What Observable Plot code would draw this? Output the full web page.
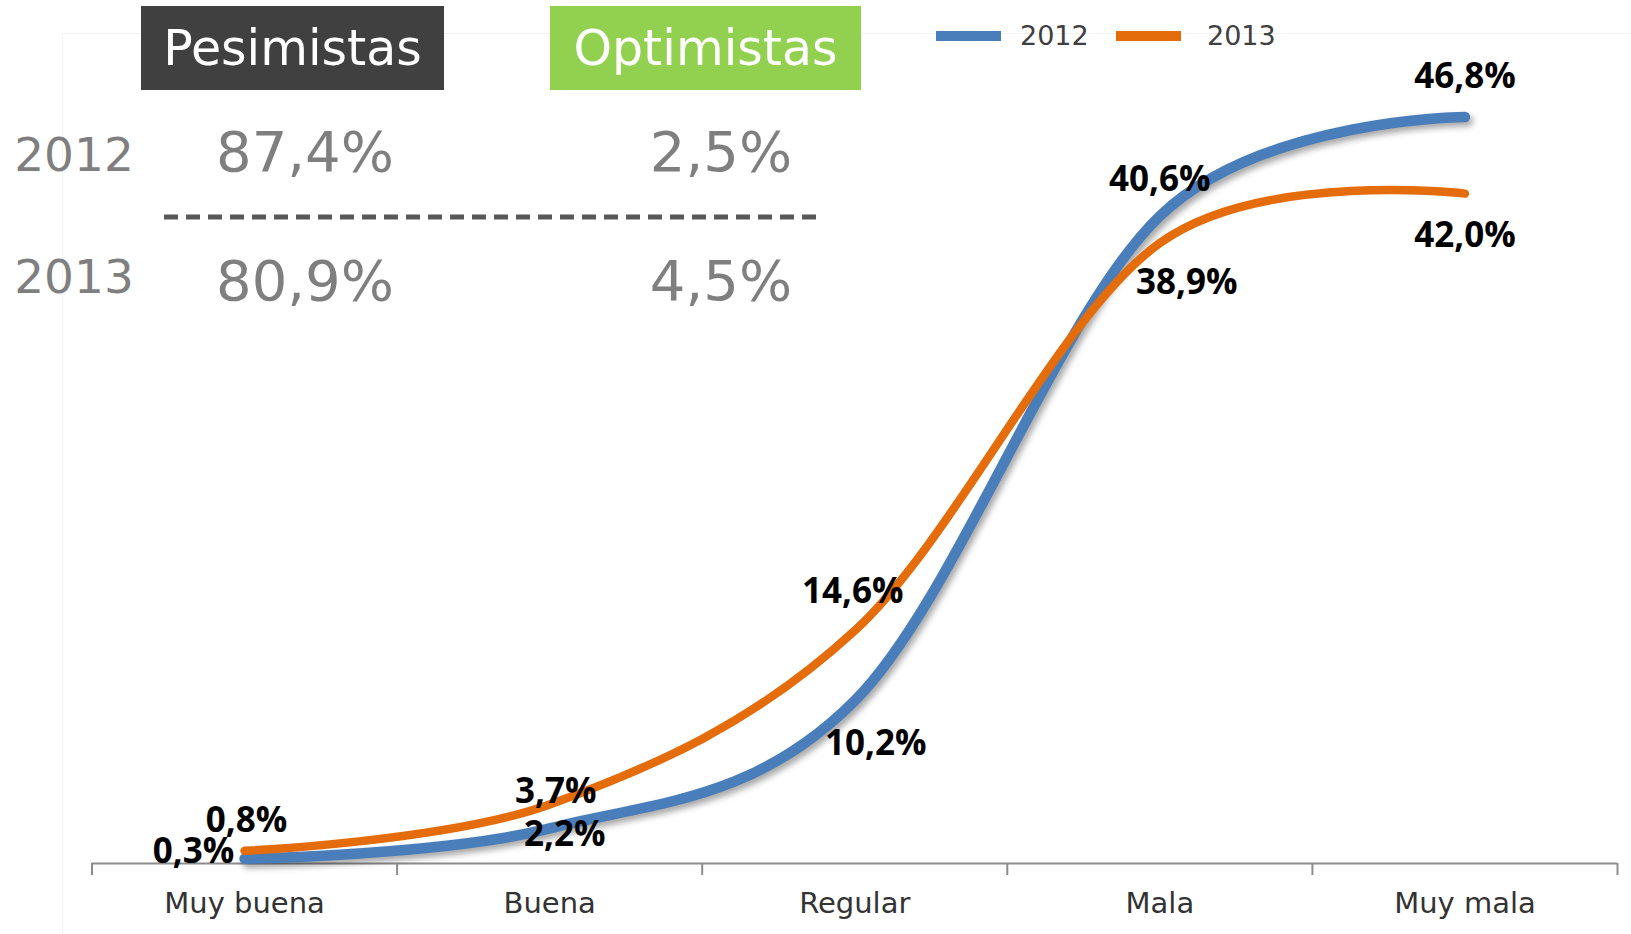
<!DOCTYPE html>
<html>
<head>
<meta charset="utf-8">
<script src="https://cdn.jsdelivr.net/npm/d3@7"></script>
<script src="https://cdn.jsdelivr.net/npm/@observablehq/plot@0.6"></script>
<style>
  html, body { margin: 0; padding: 0; background: #fff; }
  #wrap { position: relative; width: 1631px; height: 934px; overflow: hidden; font-family: "DejaVu Sans", sans-serif; }
  #chart { position: absolute; left: 0; top: 0; }
  .ov { position: absolute; white-space: nowrap; line-height: 1; }
  .c { transform: translate(-50%, -50%); }
  .box { position: absolute; display: flex; align-items: center; justify-content: center; color: #fff; font-size: 49px; }
  .frame { position: absolute; left: 62px; top: 33px; width: 1569px; height: 901px; border-left: 1px solid #f2f2f2; border-top: 1px solid #f2f2f2; }
</style>
</head>
<body>
<div id="wrap">
  <div class="frame"></div>
  <div id="chart"></div>
  <div id="overlay"></div>
</div>
<script>
// ---- data ----
const categories = ["Muy buena", "Buena", "Regular", "Mala", "Muy mala"];
const values2012 = [0.3, 2.2, 10.2, 40.6, 46.8];
const values2013 = [0.8, 3.7, 14.6, 38.9, 42.0];
const seriesNames = ["2012", "2013"];
const groupNames = ["Pesimistas", "Optimistas"];
const pesimistas = [87.4, 80.9];
const optimistas = [2.5, 4.5];

// ---- styling (not data) ----
const colors = {"2012": "#4a7ebb", "2013": "#e46c0a"};
const widths = {"2012": 10.5, "2013": 8.5};
const labelOffsets = {
  "2012": [[-51, -7], [15, 6], [21, 43], [0, -36], [0, -40]],
  "2013": [[2, -30], [6, -13], [-2, -39], [27, 40], [0, 42]]
};

const fmt = v => v.toFixed(1).replace(".", ",") + "%";
const seriesValues = {"2012": values2012, "2013": values2013};
const rows = seriesNames.flatMap(s => seriesValues[s].map((v, i) => ({series: s, i, cat: categories[i], value: v})));

const lineMarks = seriesNames.map(s =>
  Plot.line(rows.filter(d => d.series === s), {
    x: "i", y: "value", curve: "cardinal",
    stroke: colors[s], strokeWidth: widths[s], strokeLinecap: "round", strokeLinejoin: "round"
  })
);

const labelMarks = rows.map(d =>
  Plot.text([d], {
    x: "i", y: "value", text: d => fmt(d.value),
    dx: labelOffsets[d.series][d.i][0], dy: labelOffsets[d.series][d.i][1],
    fontSize: 35, fontWeight: "bold", fill: "#000", fontFamily: "Open Sans"
  })
);

const tickBounds = d3.range(categories.length + 1).map(k => k - 0.5);

const plot = Plot.plot({
  width: 1631,
  height: 934,
  marginLeft: 91.5,
  marginRight: 14,
  marginTop: 65.5,
  marginBottom: 71,
  style: {background: "transparent", overflow: "visible"},
  x: {domain: [-0.5, categories.length - 0.5], axis: null},
  y: {domain: [0, 50], axis: null},
  marks: [
    Plot.axisX({ticks: tickBounds, tickSize: 12, stroke: "#8c8c8c", strokeWidth: 2, tickFormat: () => "", label: null}),
    Plot.ruleY([0], {stroke: "#8c8c8c", strokeWidth: 2}),
    Plot.axisX({ticks: d3.range(categories.length), tickSize: 0, tickPadding: 29, label: null,
      tickFormat: i => categories[i], fontSize: 29, fill: "#333", fontFamily: "DejaVu Sans"}),
    ...lineMarks,
    ...labelMarks
  ]
});
plot.setAttribute("font-family", "DejaVu Sans");
const lineGroups = plot.querySelectorAll('g[aria-label="line"]');
if (lineGroups[0]) lineGroups[0].style.filter = "drop-shadow(3px 4px 3px rgba(0,0,0,0.35))";
document.getElementById("chart").appendChild(plot);

// ---- header / summary / legend overlays ----
const ov = document.getElementById("overlay");
function add(html) { ov.insertAdjacentHTML("beforeend", html); }

add(`<div class="box" style="left:141px;top:6px;width:303px;height:84px;background:#404040">${groupNames[0]}</div>`);
add(`<div class="box" style="left:550px;top:6px;width:311px;height:84px;background:#92d050">${groupNames[1]}</div>`);

const yearY = [154, 276];
const numY = [152, 281];
seriesNames.forEach((s, k) => {
  add(`<div class="ov c" style="left:74px;top:${yearY[k]}px;font-size:47px;color:#7f7f7f">${s}</div>`);
  add(`<div class="ov c" style="left:305px;top:${numY[k]}px;font-size:56px;color:#7f7f7f">${fmt(pesimistas[k])}</div>`);
  add(`<div class="ov c" style="left:721px;top:${numY[k]}px;font-size:56px;color:#7f7f7f">${fmt(optimistas[k])}</div>`);
});
add(`<svg class="ov" style="left:164px;top:212px" width="655" height="10"><line x1="0" y1="5" x2="655" y2="5" stroke="#595959" stroke-width="5" stroke-dasharray="14 8"/></svg>`);

// legend
const legX = [936, 1116];
const legTextX = [1020, 1207];
seriesNames.forEach((s, k) => {
  add(`<div class="ov" style="left:${legX[k]}px;top:31px;width:65px;height:10px;background:${colors[s]}"></div>`);
  add(`<div class="ov" style="left:${legTextX[k]}px;top:22px;font-size:27px;color:#404040">${s}</div>`);
});
</script>
</body>
</html>
